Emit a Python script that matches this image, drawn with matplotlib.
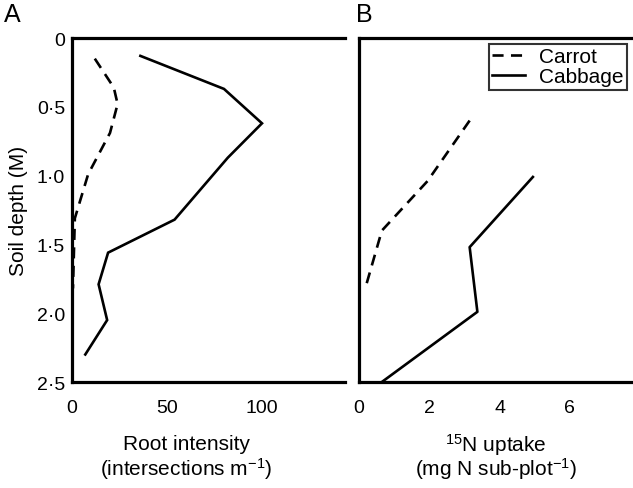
import numpy as np
import matplotlib
matplotlib.use("Agg")
import matplotlib.pyplot as plt

plt.rcParams["font.family"] = ["Liberation Sans", "DejaVu Sans"]
plt.rcParams["mathtext.default"] = "regular"

# Panel A: root intensity vs depth
carrot_root = [12, 22, 24, 20, 8.5, 1.5, 0.5]
carrot_root_depth = [0.15, 0.36, 0.48, 0.69, 0.99, 1.31, 1.82]
cabbage_root = [36, 80, 100, 82, 54, 19, 14, 18.5, 7]
cabbage_root_depth = [0.13, 0.37, 0.62, 0.87, 1.32, 1.56, 1.79, 2.05, 2.30]

# Panel B: 15N uptake vs depth
carrot_n = [3.15, 1.95, 0.65, 0.2]
carrot_n_depth = [0.60, 1.04, 1.40, 1.80]
cabbage_n = [4.95, 3.15, 3.37, 0.65]
cabbage_n_depth = [1.01, 1.52, 1.99, 2.50]

depth_ticks = [0, 0.5, 1.0, 1.5, 2.0, 2.5]
depth_labels = ["0", "0·5", "1·0", "1·5", "2·0", "2·5"]

W, H = 633, 489
fig = plt.figure(figsize=(W / 100, H / 100), dpi=100)

ax_a = fig.add_axes([72 / W, 1 - 383 / H, (345 - 72) / W, 344 / H])
ax_b = fig.add_axes([359 / W, 1 - 383 / H, (W - 359) / W, 344 / H])

dash = (4.2, 2.8)
lw = 1.9
fs = 15
for ax in (ax_a, ax_b):
    ax.set_ylim(2.5, 0)
    for s in ("left", "top", "bottom"):
        ax.spines[s].set_linewidth(2.3)
    ax.spines["right"].set_visible(False)
    ax.tick_params(length=0, labelsize=14)
    ax.tick_params(axis="x", pad=12)
    ax.tick_params(axis="y", pad=5)
    ax.patch.set_alpha(0)

ax_a.plot(carrot_root, carrot_root_depth, color="black", lw=lw, dashes=dash,
          solid_joinstyle="miter", clip_on=False)
ax_a.plot(cabbage_root, cabbage_root_depth, color="black", lw=lw,
          solid_joinstyle="miter", clip_on=False)
ax_a.set_xlim(0, 143.7)
ax_a.set_xticks([0, 50, 100])
ax_a.set_yticks(depth_ticks)
ax_a.set_yticklabels(depth_labels)
ax_a.set_ylabel("Soil depth (M)", fontsize=fs, labelpad=6)
ax_a.text(0.42, -0.18, "Root intensity", transform=ax_a.transAxes,
          ha="center", va="center", fontsize=fs)
ax_a.text(0.42, -0.25, "(intersections m$^{-1}$)", transform=ax_a.transAxes,
          ha="center", va="center", fontsize=fs)

ax_b.plot(carrot_n, carrot_n_depth, color="black", lw=lw, dashes=dash,
          label="Carrot")
ax_b.plot(cabbage_n, cabbage_n_depth, color="black", lw=lw, label="Cabbage",
          clip_on=False)
ax_b.set_xlim(0, 7.8)
ax_b.set_xticks([0, 2, 4, 6])
ax_b.set_yticks(depth_ticks)
ax_b.set_yticklabels([])
ax_b.text(0.5, -0.18, "$^{15}$N uptake", transform=ax_b.transAxes,
          ha="center", va="center", fontsize=fs)
ax_b.text(0.5, -0.25, "(mg N sub-plot$^{-1}$)", transform=ax_b.transAxes,
          ha="center", va="center", fontsize=fs)
leg = ax_b.legend(loc="upper right", fontsize=fs, frameon=True, fancybox=False,
                  borderaxespad=0.3, handlelength=1.55, borderpad=0.15,
                  labelspacing=0.05, handletextpad=0.7)
leg.get_frame().set_edgecolor("black")
leg.get_frame().set_linewidth(1.5)

fig.text(4 / W, 1 - 3 / H, "A", ha="left", va="top", fontsize=18)
fig.text(356 / W, 1 - 3 / H, "B", ha="left", va="top", fontsize=18)

fig.savefig("out.png", dpi=100)
